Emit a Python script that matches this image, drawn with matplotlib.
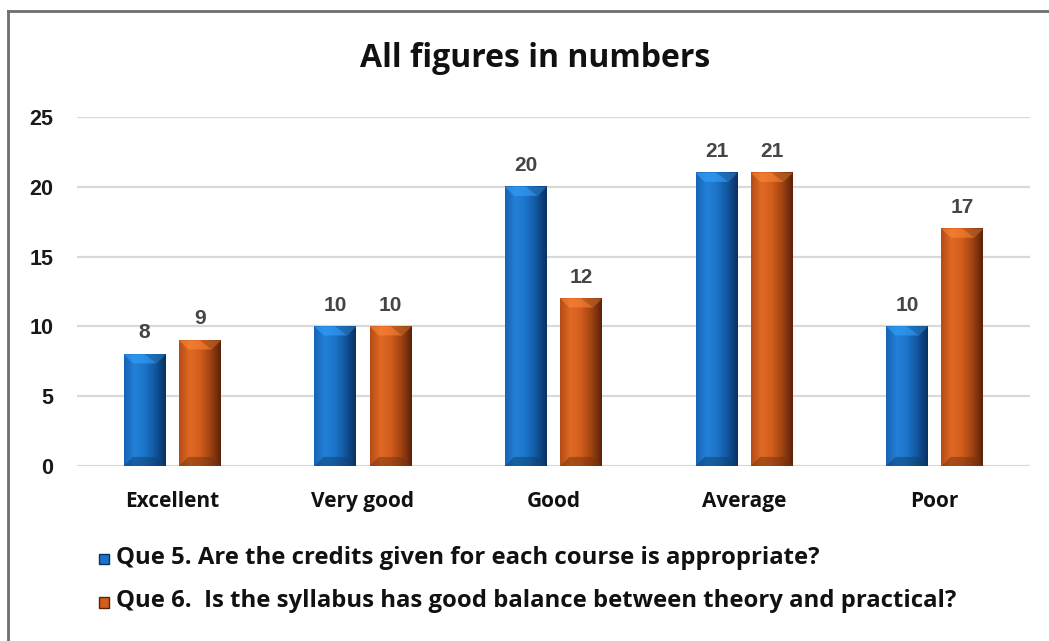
import numpy as np
import matplotlib.pyplot as plt
from matplotlib.colors import LinearSegmentedColormap, to_rgb
from matplotlib.patches import Polygon, Patch
from matplotlib.lines import Line2D

# Data
categories = ['Excellent', 'Very good', 'Good', 'Average', 'Poor']
que5 = [8, 10, 20, 21, 10]
que6 = [9, 10, 12, 21, 17]
labels = ['Que 5. Are the credits given for each course is appropriate?',
          'Que 6.  Is the syllabus has good balance between theory and practical?']
yticks = [0, 5, 10, 15, 20, 25]

# shading for the bevelled bars: left -> right
blue_shades = ['#1763b4', '#2381d8', '#1c74c8', '#11569f', '#0a3160']
orange_shades = ['#b54c16', '#e06a24', '#d25d1c', '#a04312', '#5c220a']

plt.rcParams['font.family'] = ['Open Sans', 'DejaVu Sans']

fig = plt.figure(figsize=(10.49, 6.41), dpi=100)
ax = fig.add_axes([0.0734, 0.273, 0.9086, 0.5445])

x = np.arange(len(categories))
bw = 0.22
off = 0.145


def draw_bar(xc, h, shades):
    x0, x1 = xc - bw / 2, xc + bw / 2
    cmap = LinearSegmentedColormap.from_list('b', shades)
    grad = cmap(np.linspace(0, 1, 64))[np.newaxis, :, :3]
    ax.imshow(grad, extent=[x0, x1, 0, h], aspect='auto', zorder=2,
              interpolation='bicubic')
    dx = bw * 0.22
    dy = 0.65
    base = np.array(to_rgb(shades[2]))
    light = np.clip(base * 1.25 + 0.08, 0, 1)
    dark = base * 0.55
    # top bevel
    ax.add_patch(Polygon([(x0, h), (x1, h), (x1 - dx, h - dy), (x0 + dx, h - dy)],
                         closed=True, facecolor=light, alpha=0.55, lw=0, zorder=3))
    ax.add_patch(Polygon([(xc, h), (x1, h), (x1 - dx, h - dy)],
                         closed=True, facecolor=dark, alpha=0.35, lw=0, zorder=3))
    # bottom bevel
    ax.add_patch(Polygon([(x0, 0), (x1, 0), (x1 - dx, dy), (x0 + dx, dy)],
                         closed=True, facecolor=dark, alpha=0.5, lw=0, zorder=3))
    ax.text(xc, h + 0.85, str(h), ha='center', va='bottom', fontsize=15,
            color='#454545', fontweight='bold', family='Liberation Sans')


for i in range(len(categories)):
    draw_bar(x[i] - off, que5[i], blue_shades)
    draw_bar(x[i] + off, que6[i], orange_shades)

ax.set_xlim(-0.5, len(categories) - 0.5)
ax.set_ylim(0, 25)
ax.set_yticks(yticks)
ax.set_yticklabels([str(t) for t in yticks], fontsize=15.5, fontweight='bold',
                   color='#1a1a1a', family='Liberation Sans')
ax.set_xticks(x)
ax.set_xticklabels(categories, fontsize=15, fontweight='bold', color='#111111')
ax.tick_params(axis='y', length=0, pad=17)
ax.tick_params(axis='x', length=0, pad=18)
for s in ax.spines.values():
    s.set_visible(False)
ax.grid(axis='y', color='#d9d9d9', linewidth=1.6, zorder=0)
ax.set_axisbelow(True)

fig.text(0.51, 0.909, 'All figures in numbers', ha='center', va='center',
         fontsize=23, fontweight='bold', color='#111111')

handles = [Patch(facecolor=blue_shades[2], edgecolor=blue_shades[4]),
           Patch(facecolor=orange_shades[2], edgecolor=orange_shades[4])]
leg = fig.legend(handles, labels, loc='upper left', bbox_to_anchor=(0.094, 0.148),
                 frameon=False, handlelength=0.75, handleheight=0.75, handletextpad=0.5,
                 labelspacing=1.38, borderpad=0, borderaxespad=0)
for t in leg.get_texts():
    t.set_fontsize(17.2)
    t.set_fontweight('bold')
    t.set_color('#111111')

# outer frame (top and left visible)
fig.add_artist(Line2D([0.0076, 1.0], [0.983, 0.983], color='#6e6e6e', lw=2))
fig.add_artist(Line2D([0.0076, 0.0076], [0.0, 0.983], color='#6e6e6e', lw=2))

fig.savefig('out.png', dpi=100)
